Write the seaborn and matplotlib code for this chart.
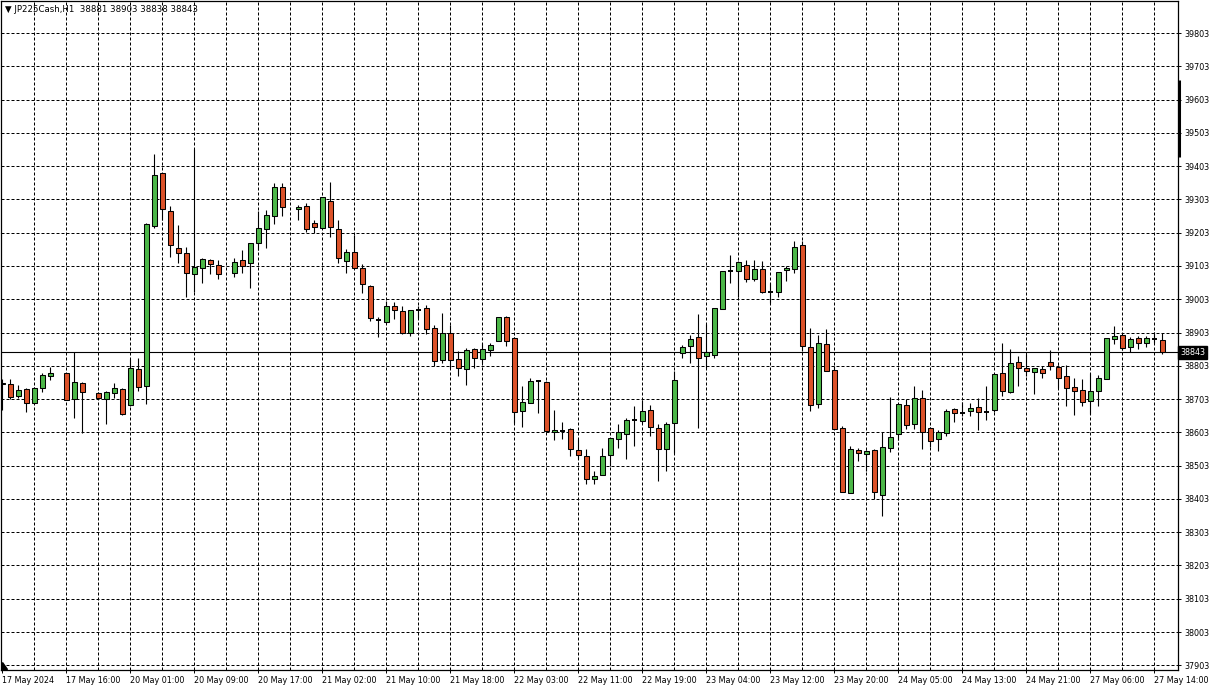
import numpy as np
import pandas as pd
import matplotlib
matplotlib.use("Agg")
import matplotlib.pyplot as plt
from matplotlib.patches import Polygon
from matplotlib.lines import Line2D
import seaborn as sns

N = None
# OHLC per hourly bar (None = no bar drawn)
opens = [38747, 38748, 38711, 38734, 38691, 38736, 38771, N, 38781, 38703,
         38751, N, 38721, 38703, 38721, 38733, 38684, 38793, 38741, 39224,
         39381, 39267, 39156, 39141, 39078, 39096, 39121, 39105, N, 39081,
         39121, 39111, 39171, 39213, 39252, 39341, N, 39273, 39283, 39231,
         39216, 39298, 39213, 39119, 39144, 39096, 39044, 38941, 38936, 38983,
         38968, 38903, 38971, 38976, 38916, 38819, 38903, 38823, 38793, 38853,
         38823, 38849, 38877, 38951, 38886, 38666, 38691, 38756, 38754, 38604,
         38608, 38613, 38551, 38531, 38463, 38474, 38535, 38583, 38598, 38641,
         38636, 38669, 38616, 38553, 38631, 38841, 38861, 38889, 38831, 38834,
         38973, 39089, 39087, 39105, 39063, 39093, 39026, 39024, 39090, 39093,
         39165, 38858, 38688, 38867, 38789, 38615, 38421, 38551, 38538, 38551,
         38415, 38555, 38598, 38686, 38628, 38706, 38616, 38583, 38601, 38673,
         38660, 38666, 38679, 38665, 38669, 38781, 38723, 38814, 38796, 38783,
         38793, 38813, 38799, 38772, 38739, 38729, 38696, 38726, 38763, 38884,
         38895, 38858, 38886, 38871, 38885, 38881]
highs = [38763, 38763, 38746, 38736, 38738, 38781, 38799, N, 38781, 38843,
         38754, N, 38723, 38726, 38751, 38736, 38823, 38826, 39231, 39439,
         39383, 39283, 39225, 39159, 39453, 39126, 39123, 39121, N, 39128,
         39151, 39171, 39269, 39271, 39353, 39353, N, 39285, 39293, 39241,
         39309, 39355, 39241, 39154, 39196, 39108, 39046, 38951, 38998, 38996,
         38983, 38970, 38983, 38986, 38926, 38961, 38926, 38846, 38856, 38856,
         38871, 38871, 38949, 38954, 38889, 38743, 38766, 38759, 38758, 38669,
         38634, 38616, 38583, 38553, 38486, 38556, 38586, 38629, 38646, 38683,
         38699, 38686, 38629, 38634, 38786, 38866, 38896, 38958, 38928, 38976,
         39089, 39136, 39119, 39121, 39121, 39119, 39051, 39086, 39104, 39179,
         39179, 38916, 38896, 38913, 38801, 38621, 38561, 38556, 38549, 38553,
         38603, 38709, 38689, 38703, 38743, 38731, 38619, 38611, 38673, 38676,
         38693, 38691, 38706, 38743, 38778, 38871, 38854, 38833, 38839, 38796,
         38803, 38851, 38804, 38804, 38766, 38763, 38781, 38776, 38886, 38923,
         38895, 38891, 38893, 38893, 38904, 38903]
lows = [38669, 38703, 38706, 38663, 38689, 38723, 38761, N, 38699, 38646,
        38601, N, 38704, 38629, 38706, 38656, 38681, 38726, 38688, 39216,
        39241, 39129, 39111, 39009, 39026, 39051, 39079, 39064, N, 39069,
        39081, 39036, 39151, 39158, 39229, 39253, N, 39241, 39206, 39203,
        39216, 39191, 39113, 39083, 39096, 39023, 38939, 38891, 38931, 38944,
        38899, 38894, 38948, 38899, 38801, 38811, 38796, 38771, 38744, 38796,
        38811, 38833, 38877, 38861, 38631, 38619, 38691, 38661, 38604, 38581,
        38583, 38531, 38523, 38449, 38449, 38474, 38501, 38557, 38524, 38561,
        38631, 38591, 38456, 38486, 38541, 38826, 38811, 38616, 38796, 38826,
        38973, 39053, 39011, 39054, 39059, 39023, 38991, 39011, 39059, 39081,
        38846, 38666, 38676, 38786, 38613, 38423, 38421, 38516, 38486, 38403,
        38353, 38545, 38581, 38614, 38614, 38554, 38558, 38546, 38591, 38633,
        38651, 38651, 38611, 38641, 38665, 38711, 38720, 38741, 38771, 38719,
        38765, 38789, 38736, 38683, 38656, 38681, 38659, 38681, 38763, 38869,
        38849, 38845, 38854, 38859, 38871, 38838]
closes = [38751, 38708, 38731, 38691, 38736, 38775, 38781, N, 38701, 38754,
          38724, N, 38706, 38724, 38736, 38659, 38796, 38739, 39228, 39375,
          39273, 39165, 39143, 39081, 39101, 39124, 39108, 39078, N, 39114,
          39103, 39171, 39216, 39255, 39339, 39279, N, 39279, 39213, 39219,
          39309, 39219, 39126, 39144, 39098, 39048, 38946, 38941, 38984, 38971,
          38901, 38970, 38971, 38913, 38816, 38903, 38819, 38796, 38850, 38826,
          38853, 38866, 38949, 38879, 38664, 38694, 38758, 38756, 38606, 38610,
          38608, 38553, 38535, 38463, 38472, 38531, 38586, 38603, 38641, 38641,
          38666, 38619, 38553, 38628, 38760, 38859, 38883, 38826, 38843, 38976,
          39089, 39089, 39116, 39065, 39095, 39026, 39026, 39086, 39096, 39161,
          38861, 38686, 38870, 38786, 38613, 38423, 38553, 38541, 38547, 38423,
          38559, 38589, 38689, 38624, 38706, 38604, 38576, 38604, 38667, 38661,
          38660, 38676, 38663, 38665, 38778, 38726, 38811, 38795, 38787, 38796,
          38780, 38801, 38765, 38735, 38727, 38694, 38726, 38766, 38886, 38892,
          38856, 38884, 38871, 38886, 38885, 38843]

time_labels = ["17 May 2024", "17 May 16:00", "20 May 01:00", "20 May 09:00",
               "20 May 17:00", "21 May 02:00", "21 May 10:00", "21 May 18:00",
               "22 May 03:00", "22 May 11:00", "22 May 19:00", "23 May 04:00",
               "23 May 12:00", "23 May 20:00", "24 May 05:00", "24 May 13:00",
               "24 May 21:00", "27 May 06:00", "27 May 14:00"]
price_ticks = [37903, 38003, 38103, 38203, 38303, 38403, 38503, 38603, 38703,
               38803, 38903, 39003, 39103, 39203, 39303, 39403, 39503, 39603,
               39703, 39803]
last_price = 38843
title_text = "\u25BC JP225Cash,H1  38881 38903 38838 38843"

UP = "#4cb748"
DOWN = "#dc5229"
FS = 5.8

sns.set_theme(style="white")
plt.rcParams["font.family"] = ["DejaVu Sans"]

W, H = 1216, 687
fig = plt.figure(figsize=(W / 100, H / 100), dpi=100)
fig.patch.set_facecolor("white")
ax = fig.add_axes([1 / W, (H - 670) / H, 1177 / W, 669 / H])
ax.set_facecolor("white")

df = pd.DataFrame({"o": opens, "h": highs, "l": lows, "c": closes}, dtype=float)
df["i"] = np.arange(len(df))
df = df.dropna()

px_per_bar = 8.0
x_left = -1.3 / px_per_bar
x_right = x_left + 1177 / px_per_bar
ax.set_xlim(x_left, x_right)
ppp = 632 / 1900.0  # pixels per price point
ax.set_ylim(37903 - 4.7 / ppp, 39803 + 32 / ppp)

dash = (0, (3, 2))
for p in price_ticks:
    ax.axhline(p, color="black", lw=0.72, ls=dash, zorder=0)
for k in range(4, len(opens), 4):
    ax.axvline(k, color="black", lw=0.72, ls=dash, zorder=0)

ax.axhline(last_price, color="black", lw=0.8, zorder=1)

# wicks
ax.vlines(df["i"], df["l"], df["h"], color="black", lw=0.8, zorder=2)

bw = 0.62
up = df[df["c"] > df["o"]]
dn = df[df["c"] < df["o"]]
dj = df[df["c"] == df["o"]]
ax.bar(up["i"], up["c"] - up["o"], bottom=up["o"], width=bw, color=UP,
       edgecolor="black", linewidth=0.75, zorder=3)
ax.bar(dn["i"], dn["o"] - dn["c"], bottom=dn["c"], width=bw, color=DOWN,
       edgecolor="black", linewidth=0.75, zorder=3)
ax.hlines(dj["o"], dj["i"] - bw / 2, dj["i"] + bw / 2, color="black", lw=1.4, zorder=3)

for s in ax.spines.values():
    s.set_visible(True)
    s.set_color("black")
    s.set_linewidth(0.9)

ax.yaxis.tick_right()
ax.set_yticks(price_ticks)
ax.set_yticklabels([str(p) for p in price_ticks], fontsize=FS, color="black")
ax.tick_params(axis="y", which="major", right=True, left=False, length=2.5,
               width=0.7, direction="out", pad=2, colors="black")

ax.set_xticks(np.arange(0, 8 * len(time_labels), 8))
ax.set_xticklabels(time_labels, fontsize=FS, color="black", ha="left")
ax.tick_params(axis="x", which="major", bottom=True, length=2.5, width=0.7,
               direction="out", pad=2, colors="black")
for t in ax.get_xticklabels():
    t.set_horizontalalignment("left")

ax.text(1.002, last_price, str(last_price), transform=ax.get_yaxis_transform(),
        fontsize=FS, color="white", va="center", ha="left",
        bbox=dict(boxstyle="square,pad=0.25", fc="black", ec="black"), zorder=10,
        clip_on=False)

fig.text(5 / W, 1 - 9 / H, title_text, fontsize=6.2, color="black",
         va="center", ha="left")

# right scale marker
fig.add_artist(Line2D([1179 / W, 1179 / W], [1 - 80 / H, 1 - 157 / H],
                      color="black", lw=2.2, solid_capstyle="butt"))
# chart shift triangle bottom-left
fig.add_artist(Polygon([[1.5 / W, 1 - 662 / H], [1.5 / W, 1 - 669 / H], [7 / W, 1 - 669 / H]],
                       closed=True, color="black"))

fig.savefig("out.png", dpi=100, facecolor="white")
